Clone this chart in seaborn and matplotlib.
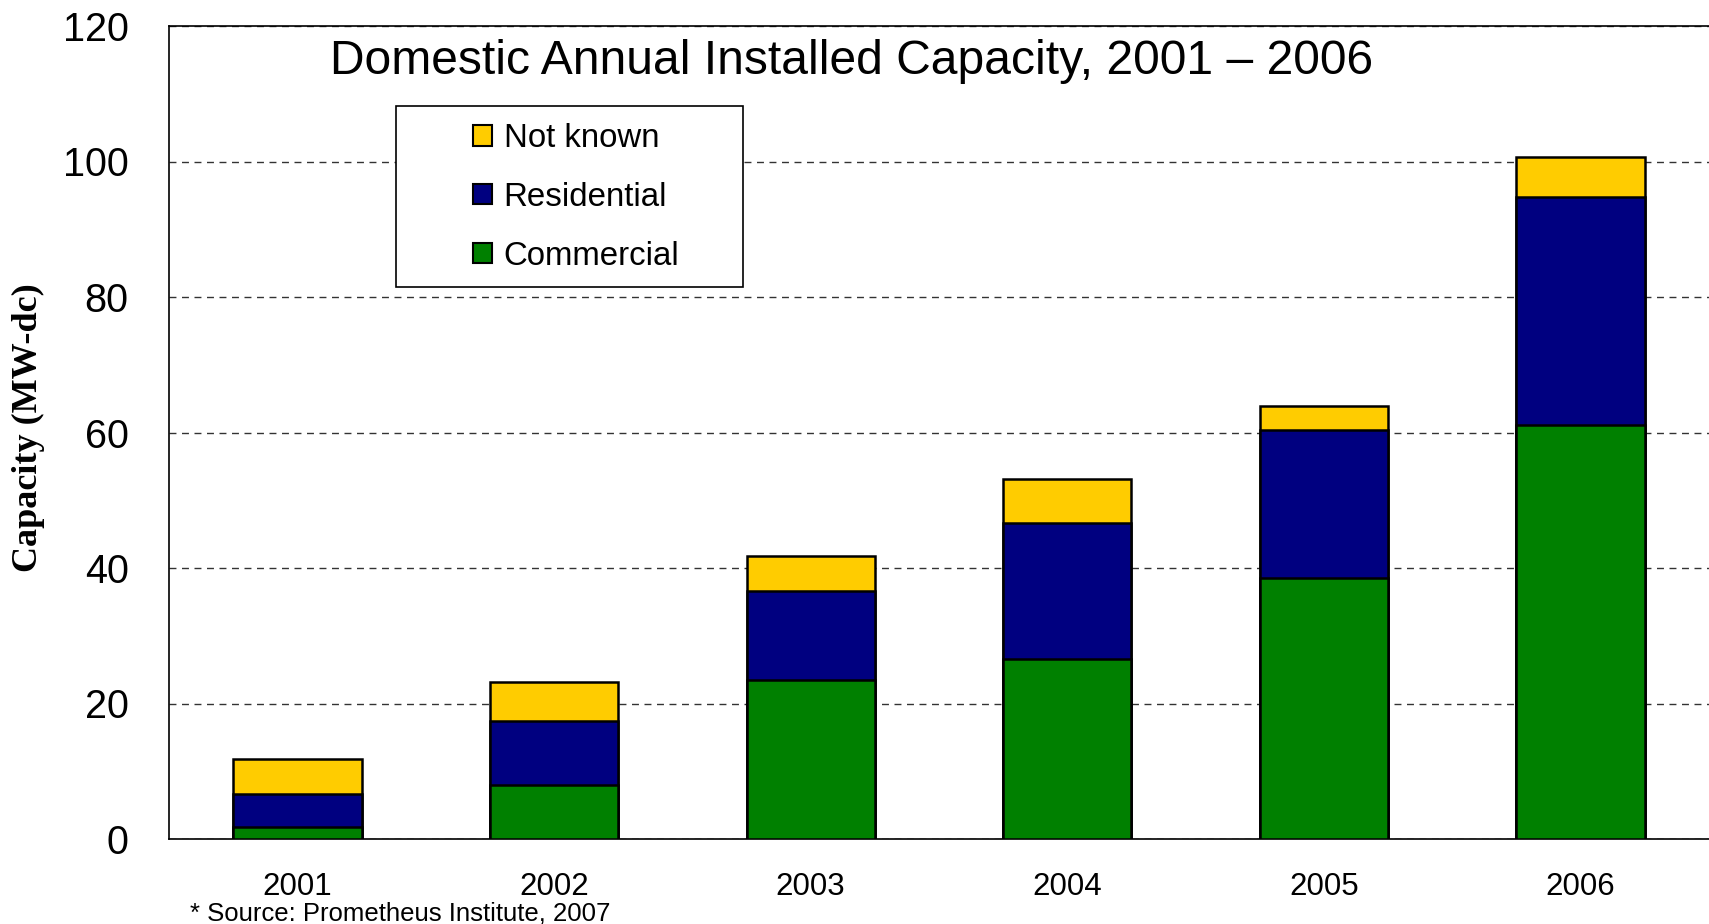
import numpy as np
import pandas as pd
import matplotlib
matplotlib.use("Agg")
import matplotlib.pyplot as plt
import seaborn as sns
from matplotlib.patches import Patch, Rectangle

years = ["2001", "2002", "2003", "2004", "2005", "2006"]
commercial = [1.7, 7.9, 23.4, 26.6, 38.5, 61.1]
residential = [4.9, 9.45, 13.2, 20.1, 21.9, 33.65]
not_known = [5.2, 5.75, 5.2, 6.4, 3.5, 5.85]
series_names = ["Commercial", "Residential", "Not known"]
series_colors = ["#008000", "#000080", "#FFCC00"]
yticks = [0, 20, 40, 60, 80, 100, 120]
title = "Domestic Annual Installed Capacity, 2001 \u2013 2006"
ylabel = "Capacity (MW-dc)"
source = "* Source: Prometheus Institute, 2007"

sns.set_style("white")
plt.rcParams["font.family"] = ["Liberation Sans", "DejaVu Sans"]
plt.rcParams["text.color"] = "black"
plt.rcParams["xtick.color"] = "black"
plt.rcParams["ytick.color"] = "black"
plt.rcParams["axes.labelcolor"] = "black"

W, H = 1709, 924
fig = plt.figure(figsize=(W / 100, H / 100), dpi=100)
ax = fig.add_axes([169 / W, 1 - 839 / H, 1 - 169 / W, (839 - 26) / H])

df = pd.DataFrame({"year": years, "Commercial": commercial,
                   "Residential": residential, "Not known": not_known})
df["c1"] = df["Commercial"]
df["c2"] = df["c1"] + df["Residential"]
df["c3"] = df["c2"] + df["Not known"]

for col, color in zip(["c3", "c2", "c1"], series_colors[::-1]):
    sns.barplot(data=df, x="year", y=col, color=color, width=0.5,
                edgecolor="black", linewidth=1.8, saturation=1,
                errorbar=None, ax=ax, zorder=3)

ax.set_xlim(-0.5, 5.5)
ax.set_ylim(0, 120)
ax.set_xlabel("")
ax.set_ylabel("")
ax.set_yticks(yticks)
ax.set_yticklabels([str(t) for t in yticks], fontsize=28.5)
ax.set_xticks(np.arange(-0.5, 6.0, 1.0))
ax.set_xticklabels([""] * 7)
ax.set_xticks(np.arange(6), minor=True)
ax.set_xticklabels(years, minor=True, fontsize=22.5)
ax.tick_params(axis="x", which="major", length=9, width=1, direction="out", color="#333333")
ax.tick_params(axis="x", which="minor", length=0, pad=24)
ax.tick_params(axis="y", length=14, width=1, direction="out", pad=15, color="#333333")
ax.set_axisbelow(True)
ax.yaxis.grid(True, linestyle=(0, (5, 4)), color="#333333", linewidth=1)
ax.xaxis.grid(False)
for s in ["left", "bottom", "top"]:
    ax.spines[s].set_visible(True)
    ax.spines[s].set_color("black")
    ax.spines[s].set_linewidth(1.2)
ax.spines["right"].set_visible(False)

# legend frame and legend
x0 = (396 - 169) / 1540
x1 = (743 - 169) / 1540
y0 = (839 - 287) / 813
y1 = (839 - 106) / 813
ax.add_patch(Rectangle((x0, y0), x1 - x0, y1 - y0, transform=ax.transAxes,
                       facecolor="white", edgecolor="black", linewidth=1.2, zorder=4))
handles = [Patch(facecolor=c, edgecolor="black", linewidth=1.5, label=n)
           for n, c in zip(series_names[::-1], series_colors[::-1])]
leg = ax.legend(handles=handles, loc="upper left",
                bbox_to_anchor=((473 - 169) / 1540, (839 - 123) / 813),
                frameon=False, fontsize=23.8, borderpad=0, borderaxespad=0,
                handlelength=0.58, handleheight=0.58, handletextpad=0.35,
                labelspacing=0.84)
leg.set_zorder(5)

fig.text(852 / W, 1 - 74 / H, title, ha="center", va="baseline", fontsize=34.6)
fig.text(28 / W, 1 - 428 / H, ylabel, rotation=90, ha="center", va="center",
         fontsize=26, fontweight="bold", family=["Liberation Serif", "DejaVu Serif"])
fig.text(190 / W, 1 - 920 / H, source, ha="left", va="baseline", fontsize=18.5)

fig.savefig("out.png", dpi=100)
